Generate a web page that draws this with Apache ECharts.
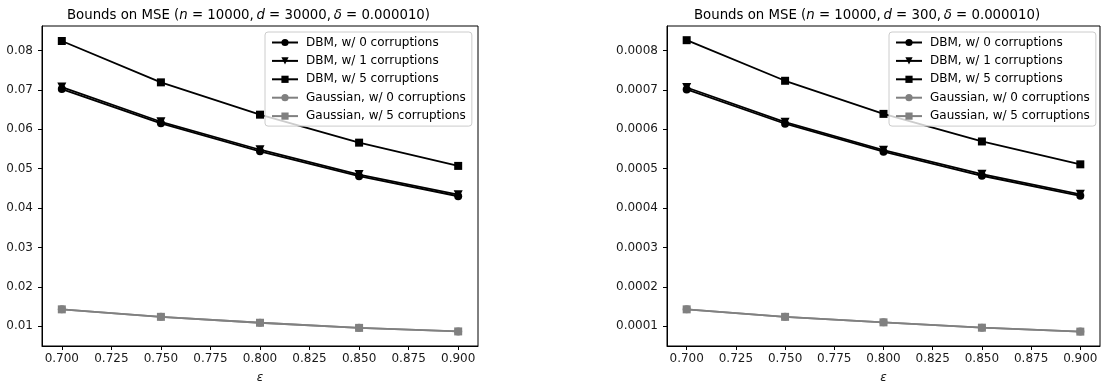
<!DOCTYPE html>
<html>
<head>
<meta charset="utf-8">
<script src="https://cdn.jsdelivr.net/npm/echarts@6/dist/echarts.min.js"></script>
<style>
html,body{margin:0;padding:0;background:#fff;}
#c{width:1102px;height:389px;}
</style>
</head>
<body>
<div id="c"></div>
<script>
// ---- data ----
const eps = [0.70, 0.75, 0.80, 0.85, 0.90];
const xTicks = [0.700, 0.725, 0.750, 0.775, 0.800, 0.825, 0.850, 0.875, 0.900];

const dbm0Left   = [0.0702, 0.0615, 0.0544, 0.0481, 0.0430];
const dbm1Left   = [0.0707, 0.0619, 0.0548, 0.0485, 0.0434];
const dbm5Left   = [0.0824, 0.0719, 0.0637, 0.0566, 0.0507];
const gauss0Left = [0.0143, 0.0124, 0.0109, 0.0096, 0.0087];
const gauss5Left = [0.0143, 0.0124, 0.0109, 0.0096, 0.0087];
const yTicksLeft = [0.01, 0.02, 0.03, 0.04, 0.05, 0.06, 0.07, 0.08];

const dbm0Right   = [0.000701, 0.000614, 0.000543, 0.000482, 0.000431];
const dbm1Right   = [0.000706, 0.000618, 0.000547, 0.000486, 0.000435];
const dbm5Right   = [0.000826, 0.000723, 0.000639, 0.000569, 0.000511];
const gauss0Right = [0.000143, 0.000124, 0.000110, 0.0000965, 0.0000865];
const gauss5Right = [0.000143, 0.000124, 0.000110, 0.0000965, 0.0000865];
const yTicksRight = [0.0001, 0.0002, 0.0003, 0.0004, 0.0005, 0.0006, 0.0007, 0.0008];

const names = ['DBM, w/ 0 corruptions', 'DBM, w/ 1 corruptions', 'DBM, w/ 5 corruptions',
               'Gaussian, w/ 0 corruptions', 'Gaussian, w/ 5 corruptions'];

// ---- chart ----
const FONT = 'DejaVu Sans';
const TXT = '#1a1a1a';
const FS = 12;
const TFS = 13.3;
const triDown = 'path://M0,0 L10,0 L5,9 Z';

function pairs(ys){ return eps.map((x,i)=>[x, ys[i]]); }

function mkSeries(idx, sets){
  const styles = [
    {color:'#000', symbol:'circle', size:8},
    {color:'#000', symbol:triDown, size:9},
    {color:'#000', symbol:'rect', size:8},
    {color:'#808080', symbol:'circle', size:8},
    {color:'#808080', symbol:'rect', size:8}
  ];
  return sets.map((ys,k)=>({
    name: names[k],
    type: 'line',
    xAxisIndex: idx, yAxisIndex: idx,
    data: pairs(ys),
    symbol: styles[k].symbol,
    symbolSize: styles[k].size,
    showSymbol: true,
    animation: false,
    lineStyle: {color: styles[k].color, width: 1.8},
    itemStyle: {color: styles[k].color, borderWidth: 0},
    emphasis: {disabled: true}
  }));
}

function mkTitle(left, dval){
  return {
    left: left, top: 4,
    text: '{n|Bounds on MSE (}{i|n}{n| = 10000,\u2009}{i|d}{n| = ' + dval + ',\u2009}{i|δ}{n| = 0.000010)}',
    textStyle: {
      fontWeight: 'normal',
      rich: {
        n: {fontFamily: FONT, fontSize: TFS, fontWeight: 'normal', color: '#000'},
        i: {fontFamily: FONT, fontSize: TFS, fontWeight: 'normal', fontStyle: 'italic', color: '#000'}
      }
    }
  };
}

function mkX(idx){
  return {
    type: 'value', gridIndex: idx, min: 0.69, max: 0.91,
    name: 'ε', nameLocation: 'middle', nameGap: 26,
    nameTextStyle: {fontFamily: FONT, fontSize: FS, fontStyle: 'italic', color: TXT},
    axisLine: {show: true, lineStyle: {color: '#000', width: 1}},
    axisTick: {show: true, length: 4, inside: false, lineStyle: {color: '#000'}, customValues: xTicks},
    axisLabel: {fontFamily: FONT, fontSize: FS, color: TXT, margin: 7, customValues: xTicks,
                formatter: v => v.toFixed(3)},
    splitLine: {show: false}
  };
}

function mkY(idx, mn, mx, ticks, dec){
  return {
    type: 'value', gridIndex: idx, min: mn, max: mx,
    axisLine: {show: true, lineStyle: {color: '#000', width: 1}},
    axisTick: {show: true, length: 4, inside: false, lineStyle: {color: '#000'}, customValues: ticks},
    axisLabel: {fontFamily: FONT, fontSize: FS, color: TXT, margin: 9, customValues: ticks,
                formatter: v => v.toFixed(dec)},
    splitLine: {show: false}
  };
}

function mkLegend(left){
  return {
    orient: 'vertical', left: left, top: 32,
    data: names,
    itemWidth: 26, itemHeight: 9, itemGap: 4.4,
    padding: [3.5, 6, 3, 6],
    backgroundColor: 'rgba(255,255,255,0.8)',
    borderColor: '#cccccc', borderWidth: 1, borderRadius: 3,
    selectedMode: false,
    textStyle: {fontFamily: FONT, fontSize: FS, color: '#000', lineHeight: 14, padding: [0,0,0,3]}
  };
}

const chart = echarts.init(document.getElementById('c'), null, {renderer: 'canvas'});
chart.setOption({
  backgroundColor: '#fff',
  animation: false,
  title: [mkTitle(62, '30000'), mkTitle(689, '300')],
  legend: [mkLegend(265), mkLegend(889)],
  grid: [
    {left: 42, top: 26, width: 436, height: 324, show: true, borderColor: '#000', borderWidth: 1, containLabel: false},
    {left: 667, top: 26, width: 433, height: 324, show: true, borderColor: '#000', borderWidth: 1, containLabel: false}
  ],
  xAxis: [mkX(0), mkX(1)],
  yAxis: [mkY(0, 0.005, 0.0862, yTicksLeft, 2), mkY(1, 0.00005, 0.000862, yTicksRight, 4)],
  series: [].concat(
    mkSeries(0, [dbm0Left, dbm1Left, dbm5Left, gauss0Left, gauss5Left]),
    mkSeries(1, [dbm0Right, dbm1Right, dbm5Right, gauss0Right, gauss5Right])
  )
});
</script>
</body>
</html>
